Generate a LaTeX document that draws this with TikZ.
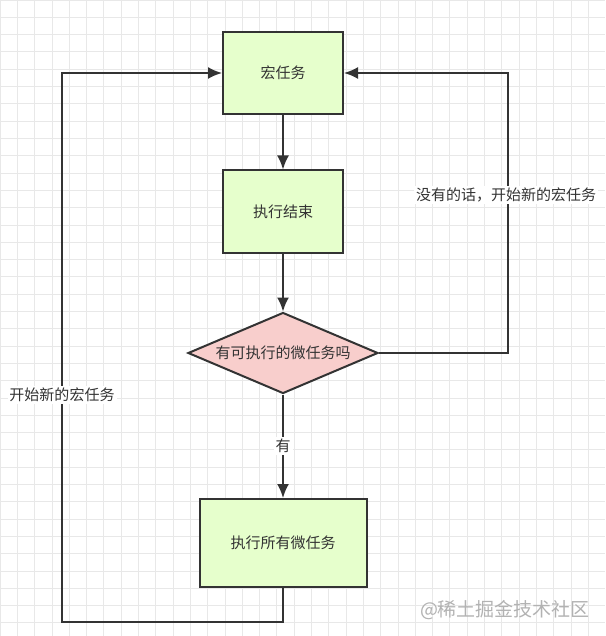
\documentclass[tikz,border=0pt]{standalone}
\usepackage{fontspec}
\setmainfont{Noto Sans CJK SC}
\usetikzlibrary{arrows.meta,shapes.geometric}
\definecolor{taskgreen}{HTML}{E6FFCC}
\definecolor{askpink}{HTML}{F8CECC}
\definecolor{linegray}{HTML}{333333}
\tikzset{
    task/.style={draw=linegray,line width=1pt,fill=taskgreen,text=linegray,
        minimum width=60pt,minimum height=41pt,inner sep=0pt,font=\fontsize{7.5pt}{9pt}\selectfont},
    ask/.style={diamond,aspect=2.35,draw=linegray,line width=1pt,fill=askpink,text=linegray,
        minimum width=95pt,minimum height=40.5pt,inner sep=0pt,font=\fontsize{7.5pt}{9pt}\selectfont},
    note/.style={fill=white,text=linegray,inner sep=1pt,font=\fontsize{7.5pt}{9pt}\selectfont},
    flow/.style={->,draw=linegray,line width=1pt}
}
\begin{document}
\begin{tikzpicture}[x=0.5pt,y=-0.5pt,>={Latex[length=7pt,width=6pt]}]
        \useasboundingbox (0,0) rectangle (605,636);

        % draw the background grid
        \fill[white] (0,0) rectangle (605,636);
        \foreach \g in {0,17.3,...,605}
                \draw[gray!18,line width=0.4pt] (\g,0) -- (\g,636);
        \foreach \g in {0,17.3,...,636}
                \draw[gray!18,line width=0.4pt] (0,\g) -- (605,\g);

        % draw the steps
        \node[task] (macro) at (283,73) {宏任务};
        \node[task] (done) at (283,211.5) {执行结束};
        \node[ask] (check) at (283,353) {有可执行的微任务吗};
        \node[task,minimum width=83.5pt,minimum height=44pt] (micro) at (283,543) {执行所有微任务};

        % helper corners of the two loops
        \coordinate (lbot) at (62,622);
        \coordinate (rside) at (508,0);

        % draw the connectors
        \draw[flow] (macro) -- (done);
        \draw[flow] (done) -- (check);
        \draw[flow] (check) -- node[note] {有} (micro);
        \draw[flow] (micro.south) |- (lbot) |- (macro.west);
        \draw[flow] (check.east) -- (check.east -| rside) |- (macro.east);

        % draw the loop labels
        \node[note] (newleft) at (62,395) {开始新的宏任务};
        \node[note] (newright) at (506,195) {没有的话，开始新的宏任务};

        % watermark
        \node[text=gray!60,font=\fontsize{9.5pt}{11pt}\selectfont] (mark) at (505,610) {@稀土掘金技术社区};
\end{tikzpicture}
\end{document}
